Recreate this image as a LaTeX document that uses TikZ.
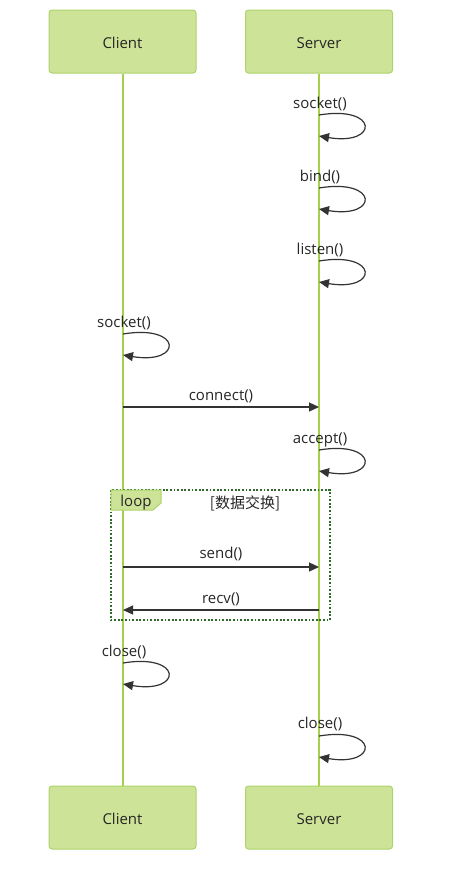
\documentclass[tikz,border=0pt]{standalone}
\usepackage{fontspec}
\setmainfont{Open Sans}
\newfontfamily\cjk{Noto Sans CJK SC}
\usetikzlibrary{arrows.meta}
\definecolor{actfill}{HTML}{CDE498}
\definecolor{actline}{HTML}{ADD46A}
\definecolor{lifeline}{HTML}{A6CF4C}
\definecolor{msgline}{HTML}{333333}
\definecolor{loopline}{HTML}{2F6A2A}
\begin{document}
\begin{tikzpicture}[x=1pt,y=-1pt,
  every node/.style={font=\fontsize{15}{18}\selectfont,text=black!85,inner sep=0pt},
  actor/.style={draw=actline,fill=actfill,line width=1pt,rounded corners=3pt,minimum width=147pt,minimum height=63pt},
  label/.style={anchor=base},
  life/.style={draw=lifeline,line width=2pt},
  msg/.style={draw=msgline,line width=1.2pt,-{Triangle[length=10pt,width=9pt]}},
  loopframe/.style={draw=loopline,line width=1.8pt,dash pattern=on 1.8pt off 1.8pt}]
\useasboundingbox (0,0) rectangle (451,876);
% Actors top and bottom
\node[actor] (n1) at (122.5,41.5) {};
\node[actor] (n2) at (319,41.5) {};
\node[actor] (n3) at (122.5,817.5) {};
\node[actor] (n4) at (319,817.5) {};
\node[label] (t1) at (122.5,48) {Client};
\node[label] (t2) at (319,48) {Server};
\node[label] (t3) at (122.5,824) {Client};
\node[label] (t4) at (319,824) {Server};
% Lifelines
\draw[life] (n1.south) -- (n3.north);
\draw[life] (n2.south) -- (n4.north);
% Points on the lifelines
\coordinate (s1a) at (319,115); \coordinate (s1b) at (319,136);
\coordinate (s2a) at (319,188); \coordinate (s2b) at (319,209);
\coordinate (s3a) at (319,261); \coordinate (s3b) at (319,282);
\coordinate (c1a) at (123,334); \coordinate (c1b) at (123,355);
\coordinate (c2) at (123,407);  \coordinate (s4) at (319,407);
\coordinate (s5a) at (319,450); \coordinate (s5b) at (319,471);
\coordinate (c3) at (123,567);  \coordinate (s6) at (319,567);
\coordinate (c4) at (123,610);  \coordinate (s7) at (319,610);
\coordinate (c5a) at (123,663); \coordinate (c5b) at (123,684);
\coordinate (s8a) at (319,736); \coordinate (s8b) at (319,757);
% Loop frame
\draw[loopframe] (111,490) rectangle (330,620);
\draw[draw=actline,fill=actfill,line width=1pt] (111,490) -- (161,490) -- (161,503) -- (153,510) -- (111,510) -- cycle;
\node[label] (lp) at (136,506) {loop};
\node[label] (lt) at (245,508) {\cjk [数据交换]};
% Server setup
\draw[msg] (s1a) .. controls +(60,-10) and +(60,10) .. (s1b);
\node[label] (m1) at (320,108) {socket()};
\draw[msg] (s2a) .. controls +(60,-10) and +(60,10) .. (s2b);
\node[label] (m2) at (320,181) {bind()};
\draw[msg] (s3a) .. controls +(60,-10) and +(60,10) .. (s3b);
\node[label] (m3) at (320,254) {listen()};
% Client connects
\draw[msg] (c1a) .. controls +(60,-10) and +(60,10) .. (c1b);
\node[label] (m4) at (124,327) {socket()};
\draw[msg] (c2) -- (s4);
\node[label] (m5) at (221,400) {connect()};
\draw[msg] (s5a) .. controls +(60,-10) and +(60,10) .. (s5b);
\node[label] (m6) at (320,443) {accept()};
% Data exchange
\draw[msg] (c3) -- (s6);
\node[label] (m7) at (221,558) {send()};
\draw[msg] (s7) -- (c4);
\node[label] (m8) at (221,603) {recv()};
% Close
\draw[msg] (c5a) .. controls +(60,-10) and +(60,10) .. (c5b);
\node[label] (m9) at (124,656) {close()};
\draw[msg] (s8a) .. controls +(60,-10) and +(60,10) .. (s8b);
\node[label] (m10) at (320,728) {close()};
\end{tikzpicture}
\end{document}
